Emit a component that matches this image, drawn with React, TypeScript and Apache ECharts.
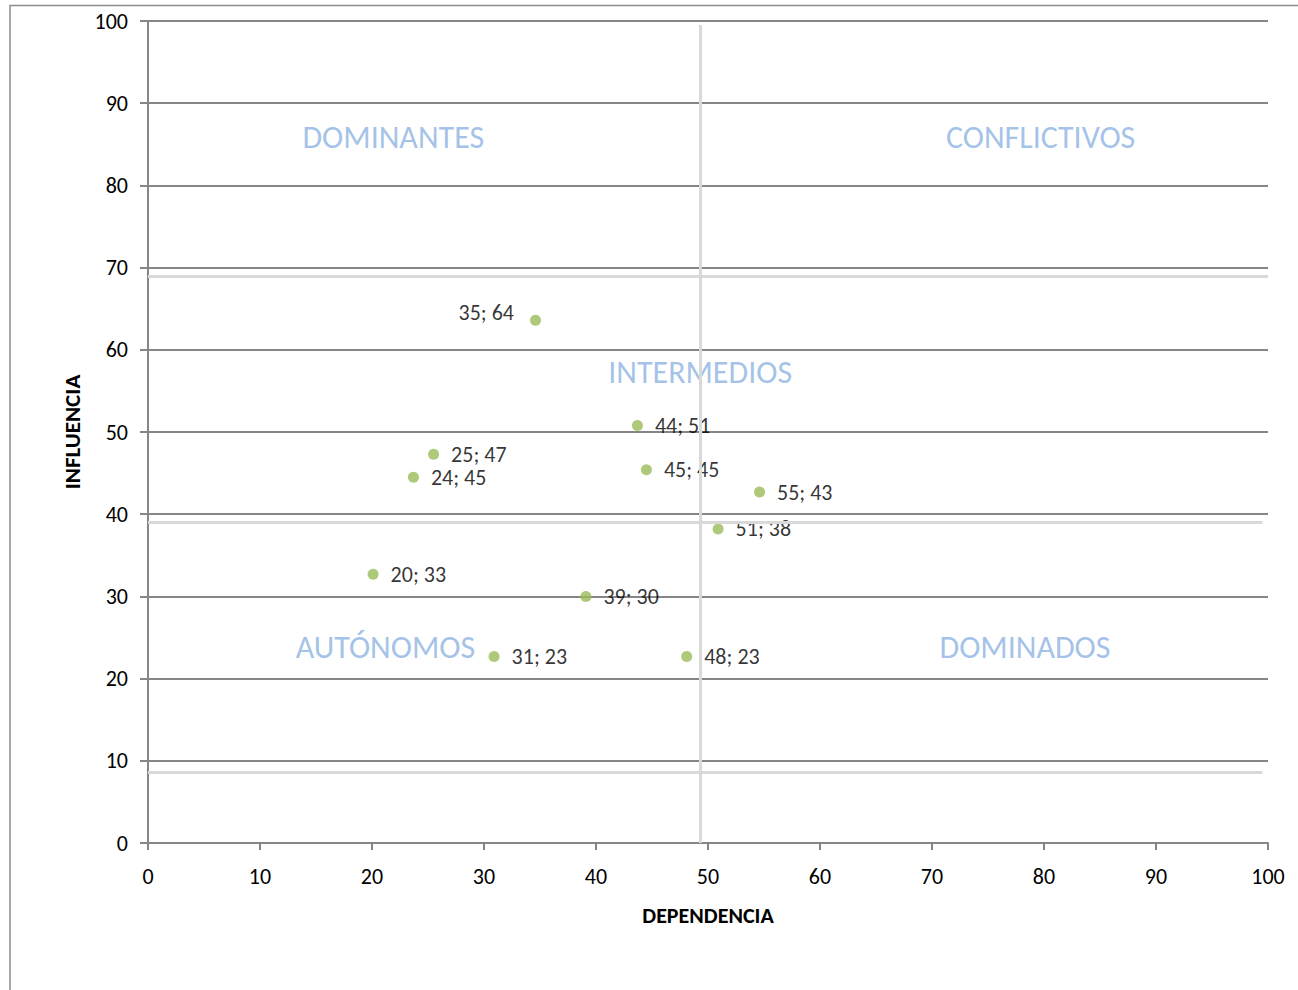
import React, { useEffect, useRef } from "react";
import * as echarts from "echarts";

const dependencia = [34.6, 43.7, 25.5, 23.7, 44.5, 54.6, 50.9, 20.1, 39.1, 30.9, 48.1];
const influencia = [63.6, 50.8, 47.3, 44.5, 45.4, 42.7, 38.2, 32.7, 30.0, 22.7, 22.7];
const pointLabels = ["35; 64", "44; 51", "25; 47", "24; 45", "45; 45", "55; 43", "51; 38", "20; 33", "39; 30", "31; 23", "48; 23"];
const labelLeft = [true, false, false, false, false, false, false, false, false, false, false];
// reference lines: [x1, y1, x2, y2] in data units
const refLines = [
  [0, 68.9, 100, 68.9],
  [0, 39.05, 99.5, 39.05],
  [0, 8.65, 99.5, 8.65],
  [49.3, 0, 49.3, 99.5],
];
const quadrantNames = ["DOMINANTES", "CONFLICTIVOS", "INTERMEDIOS", "AUTÓNOMOS", "DOMINADOS"];
const quadrantX = [21.9, 79.7, 49.3, 21.2, 78.3];
const quadrantY = [85.8, 85.8, 57.2, 23.8, 23.8];

const FONT = "Carlito, 'Liberation Sans Narrow', 'Open Sans', sans-serif";

export default function App() {
  const ref = useRef<HTMLDivElement>(null);
  useEffect(() => {
    document.body.style.margin = "0";
    const chart = echarts.init(ref.current!, null, { renderer: "svg" });
    const points = dependencia.map((x, i) => ({
      value: [x, influencia[i]],
      label: labelLeft[i]
        ? { position: "left", distance: 16, offset: [0, -8] }
        : { position: "right", distance: 12 },
    }));
    const quadrants = quadrantNames.map((n, i) => ({
      value: [quadrantX[i], quadrantY[i]],
      name: n,
    }));
    chart.setOption({
      animation: false,
      grid: { left: 148, right: 30, top: 21, bottom: 147 },
      textStyle: { fontFamily: FONT },
      graphic: [
        {
          type: "polyline",
          shape: { points: [[10, 990], [10, 5.5], [1298, 5.5]] },
          style: { stroke: "#8c8c8c", lineWidth: 1.5, fill: "none" },
          silent: true,
        },
      ],
      xAxis: {
        type: "value",
        min: 0,
        max: 100,
        interval: 10,
        name: "DEPENDENCIA",
        nameLocation: "middle",
        nameGap: 61,
        nameTextStyle: { fontFamily: FONT, fontWeight: "bold", fontSize: 22, color: "#000" },
        axisLine: { show: true, lineStyle: { color: "#868686", width: 2 } },
        axisTick: { show: true, length: 7, lineStyle: { color: "#868686", width: 2 } },
        axisLabel: { fontFamily: FONT, fontSize: 22, color: "#000", margin: 22 },
        splitLine: { show: false },
      },
      yAxis: {
        type: "value",
        min: 0,
        max: 100,
        interval: 10,
        name: "INFLUENCIA",
        nameLocation: "middle",
        nameGap: 64,
        nameTextStyle: { fontFamily: FONT, fontWeight: "bold", fontSize: 23, color: "#000" },
        axisLine: { show: true, lineStyle: { color: "#868686", width: 2 } },
        axisTick: { show: true, length: 8, lineStyle: { color: "#868686", width: 2 } },
        axisLabel: { fontFamily: FONT, fontSize: 22, color: "#000", margin: 20 },
        splitLine: { show: true, lineStyle: { color: "#868686", width: 2 } },
      },
      series: [
        {
          type: "scatter",
          silent: true,
          symbol: "circle",
          symbolSize: 11,
          itemStyle: { color: "#9BBB59" },
          data: points,
          label: {
            show: true,
            formatter: (p: any) => pointLabels[p.dataIndex],
            fontFamily: FONT,
            fontSize: 22,
            color: "#000",
          },
          markLine: {
            silent: true,
            symbol: "none",
            label: { show: false },
            lineStyle: { color: "#D9D9D9", width: 3, type: "solid" },
            data: refLines.map((l) => [{ coord: [l[0], l[1]] }, { coord: [l[2], l[3]] }]),
          },
          z: 3,
        },
        {
          type: "scatter",
          silent: true,
          symbolSize: 0,
          data: quadrants,
          label: {
            show: true,
            position: "inside",
            formatter: (p: any) => p.name,
            fontFamily: FONT,
            fontSize: 32,
            color: "#8DB3E2",
          },
          z: 4,
        },
      ],
    });
    return () => chart.dispose();
  }, []);
  return <div ref={ref} style={{ width: 1298, height: 990 }} />;
}
